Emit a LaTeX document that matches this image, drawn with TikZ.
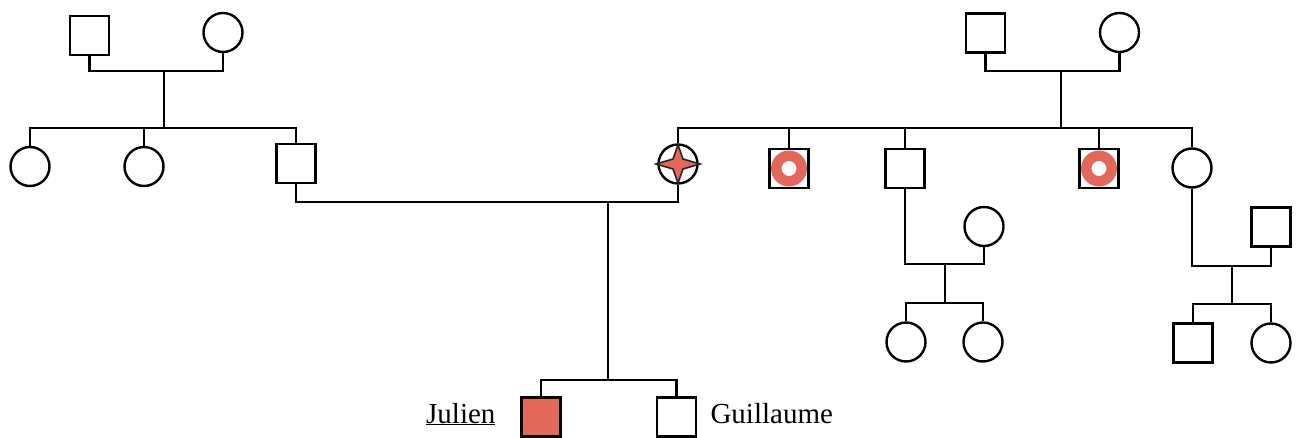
\documentclass[tikz,border=0pt]{standalone}
\usepackage{fontspec}
\setmainfont{Liberation Serif}
\definecolor{sick}{RGB}{226,104,92}
\begin{document}
\begin{tikzpicture}[x=1pt, y=-1pt, every node/.style={font=\fontsize{29}{34}\selectfont}]
		% Styles
		\tikzstyle{male}=[rectangle,draw=black,line width=2.4pt,minimum size=39pt,inner sep=0pt]
		\tikzstyle{female}=[circle,draw=black,line width=2.4pt,minimum size=39pt,inner sep=0pt]
		\tikzstyle{edge}=[draw,line width=2.4pt,-]
		\useasboundingbox (0,0) rectangle (1301,438);

		% Nodes for left grandparents and their children
		\node[male] (lgf) at (89.5,35.5) {};
		\node[female] (lgm) at (223,32.5) {};
		\foreach \name/\x in {la/30,lb/144}
		\node[female] (\name) at (\x,166.5) {};
		\node[male] (lf) at (296,163.5) {};

		% Nodes for right grandparents and their children
		\node[male] (rgf) at (985.5,33) {};
		\node[female] (rgm) at (1119.5,32.5) {};
		\node[female] (mo) at (678,164) {};
		\foreach \name/\x in {ra/789,rb/905,rc/1099}
		\node[male] (\name) at (\x,168.5) {};
		\node[female] (rd) at (1192,168) {};

		% Nodes for the cousins
		\node[female] (rbw) at (984,226.5) {};
		\foreach \name/\x in {rba/906,rbb/983}
		\node[female] (\name) at (\x,342) {};
		\node[male] (rdh) at (1271,227) {};
		\node[male] (rda) at (1193,343) {};
		\node[female] (rdb) at (1271,343) {};

		% Nodes for the two sons
		\node[male,fill=sick] (ju) at (541,417) {};
		\node[male] (gu) at (676.5,417) {};
		\node[anchor=base east] (julab) at (499,423) {\underline{Julien}};
		\node[anchor=base west] (gulab) at (707,423) {Guillaume};

		% Marks inside the carriers
		\begin{scope}[shift={(mo.center)}]
			\path[fill=sick,draw=black!85,line width=1.6pt] (0,-19) -- (5,-5) -- (22,0) -- (5,5) -- (0,19)
				-- (-5,5) -- (-22,0) -- (-5,-5) -- cycle;
		\end{scope}
		\foreach \name in {ra,rc}
		\fill[sick,even odd rule] (\name.center) circle (18pt) circle (7.5pt);

		% Junction points
		\coordinate (lc1) at (164,71);
		\coordinate (ls1) at (164,128);
		\coordinate (rc1) at (1061,71);
		\coordinate (rs1) at (1061,128);
		\coordinate (pc) at (608,202);
		\coordinate (ps) at (608,380);
		\coordinate (bc) at (945,264);
		\coordinate (bs) at (945,303);
		\coordinate (dc) at (1232,266);
		\coordinate (ds) at (1232,304);

		% Connect the left family
		\path[edge] (lgf.south) |- (lc1) -| (lgm.south);
		\path[edge] (lc1) -- (ls1);
		\path[edge] (la.north) |- (ls1) -| (lf.north);
		\path[edge] (lb.north) -- (lb.north |- ls1);

		% Connect the right family
		\path[edge] (rgf.south) |- (rc1) -| (rgm.south);
		\path[edge] (rc1) -- (rs1);
		\path[edge] (mo.north) |- (rs1) -| (rd.north);
		\foreach \name in {ra,rb,rc}
		\path[edge] (\name.north) -- (\name.north |- rs1);

		% Connect the cousins
		\path[edge] (rb.south) |- (bc) -| (rbw.south);
		\path[edge] (bc) -- (bs);
		\path[edge] (rba.north) |- (bs) -| (rbb.north);
		\path[edge] (rd.south) |- (dc) -| (rdh.south);
		\path[edge] (dc) -- (ds);
		\path[edge] (rda.north) |- (ds) -| (rdb.north);

		% Connect the parents and the sons
		\path[edge] (lf.south) |- (pc) -| (mo.south);
		\path[edge] (pc) -- (ps);
		\path[edge] (ju.north) |- (ps) -| (gu.north);
	\end{tikzpicture}
\end{document}
